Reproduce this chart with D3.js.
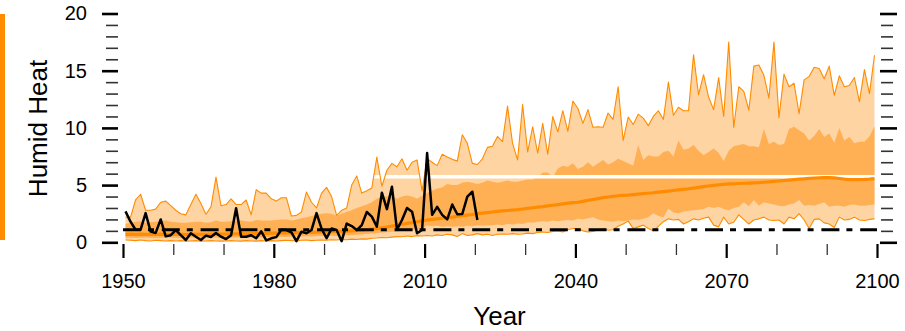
<!DOCTYPE html>
<html>
<head>
<meta charset="utf-8">
<script src="https://cdn.jsdelivr.net/npm/d3@7"></script>
<style>
  html, body { margin: 0; padding: 0; background: #fff; }
  svg { display: block; font-family: "Liberation Sans", Arial, Helvetica, sans-serif; }
</style>
</head>
<body>
<svg id="chart" width="905" height="331"></svg>
<script>
// Annual values, 1950-2099 (ensemble envelope) and 1950-2020 (observed)
const firstYear = 1950;

const ensMax = [
  2.2, 2.2, 3.7, 4.2, 2.8, 2.8, 2.9, 3.5, 3.6, 3.2,
  2.8, 2.5, 2.4, 3.3, 4.2, 3.4, 2.45, 3.1, 5.7, 3.2,
  3.3, 3.8, 3.3, 3.3, 3.7, 2.4, 4.6, 4.3, 4.3, 3.8,
  3.6, 3.9, 3.9, 2.3, 2.35, 2.65, 4.4, 3.5, 3.0, 4.3,
  4.8, 4.0, 2.35, 2.8, 3.0, 5.0, 5.8, 4.3, 4.5, 4.75,
  7.45, 4.9, 6.3, 6.9, 6.6, 7.3, 6.3, 7.0, 7.2, 4.5,
  7.3, 7.0, 6.7, 7.7, 7.45, 7.25, 7.1, 9.4, 8.65, 6.9,
  6.8, 7.3, 8.3, 8.4, 9.25, 8.8, 11.9, 8.65, 7.2, 12.05,
  7.9, 10.1, 7.8, 10.4, 7.7, 11.0, 9.65, 11.5, 9.7, 12.35,
  11.7, 10.4, 11.6, 10.05, 10.1, 10.05, 11.3, 10.75, 13.6, 8.9,
  10.95, 10.3, 11.2, 10.85, 10.2, 11.0, 11.5, 10.75, 14.0, 11.1,
  11.8, 11.5, 11.5, 16.4, 12.9, 14.65, 12.7, 11.6, 14.4, 11.0,
  17.5, 10.05, 13.6, 13.2, 11.55, 15.4, 15.5, 14.6, 12.6, 17.5,
  10.9, 14.7, 13.6, 13.9, 11.25, 14.2, 14.5, 15.3, 15.2, 14.3,
  15.4, 12.85, 14.55, 13.6, 13.7, 14.4, 12.3, 15.1, 13.0, 16.35
];

const ensHigh = [
  1.6, 1.7, 1.8, 1.85, 1.7, 1.75, 1.8, 1.85, 1.9, 1.8,
  1.75, 1.7, 1.7, 1.75, 1.8, 1.8, 1.7, 1.75, 1.9, 1.8,
  1.8, 1.85, 1.9, 1.9, 1.85, 1.8, 1.95, 1.9, 1.9, 1.9,
  1.95, 2.0, 2.0, 1.9, 2.0, 2.1, 2.2, 2.3, 2.4, 2.5,
  2.55, 2.5, 2.35, 2.5, 2.65, 2.8, 3.0, 3.15, 3.3, 3.5,
  3.8, 4.0, 4.0, 4.1, 3.8, 4.0, 4.1, 4.0, 3.8, 4.1,
  4.3, 4.5, 4.7, 4.8, 5.1, 5.0, 5.0, 5.2, 5.3, 5.2,
  5.1, 5.2, 5.4, 5.3, 5.2, 5.3, 5.4, 5.3, 5.3, 5.4,
  5.5, 5.5, 5.7, 6.1, 6.1, 5.7, 6.45, 6.7, 6.6, 6.9,
  6.4, 6.6, 7.0, 6.6, 6.9, 7.2, 6.8, 7.0, 7.3, 7.1,
  6.9, 6.7, 8.5, 7.2, 7.6, 7.5, 7.5, 7.9, 8.0, 7.5,
  8.9, 8.1, 8.2, 8.5, 8.0, 7.6, 7.9, 8.2, 7.8, 7.1,
  8.0, 8.4, 8.5, 8.6, 8.4, 8.4, 8.3, 9.9, 8.6, 8.8,
  8.5, 8.6, 9.9, 10.1, 9.8, 9.5, 8.9, 9.3, 9.9, 9.2,
  9.5, 8.7, 10.0, 8.9, 9.2, 8.65, 8.8, 8.8, 9.25, 10.15
];

const ensMedian = [
  0.7, 0.72, 0.7, 0.72, 0.7, 0.68, 0.7, 0.72, 0.7, 0.7,
  0.72, 0.7, 0.68, 0.7, 0.72, 0.7, 0.7, 0.72, 0.74, 0.72,
  0.72, 0.74, 0.74, 0.75, 0.74, 0.75, 0.76, 0.78, 0.78, 0.8,
  0.8, 0.82, 0.82, 0.83, 0.84, 0.85, 0.86, 0.87, 0.88, 0.9,
  0.9, 0.92, 0.94, 0.95, 0.97, 1.0, 1.03, 1.06, 1.1, 1.15,
  1.2, 1.27, 1.34, 1.42, 1.5, 1.58, 1.65, 1.72, 1.8, 1.88,
  1.95, 2.0, 2.05, 2.1, 2.15, 2.2, 2.27, 2.33, 2.38, 2.43,
  2.5, 2.55, 2.6, 2.65, 2.7, 2.74, 2.78, 2.82, 2.86, 2.91,
  2.97, 3.02, 3.07, 3.12, 3.18, 3.24, 3.3, 3.36, 3.42, 3.46,
  3.5, 3.58, 3.66, 3.74, 3.82, 3.9, 3.96, 4.02, 4.07, 4.1,
  4.13, 4.17, 4.21, 4.25, 4.29, 4.33, 4.38, 4.43, 4.48, 4.53,
  4.58, 4.63, 4.68, 4.74, 4.8, 4.86, 4.92, 4.98, 5.03, 5.07,
  5.1, 5.12, 5.14, 5.16, 5.18, 5.2, 5.22, 5.25, 5.28, 5.32,
  5.36, 5.4, 5.44, 5.48, 5.52, 5.55, 5.58, 5.61, 5.64, 5.66,
  5.66, 5.63, 5.58, 5.52, 5.48, 5.47, 5.48, 5.5, 5.53, 5.57
];

const ensLow = [
  0.4, 0.42, 0.38, 0.4, 0.42, 0.4, 0.38, 0.4, 0.42, 0.4,
  0.4, 0.38, 0.4, 0.42, 0.4, 0.38, 0.4, 0.42, 0.42, 0.4,
  0.42, 0.4, 0.44, 0.42, 0.44, 0.42, 0.45, 0.44, 0.46, 0.45,
  0.46, 0.48, 0.47, 0.5, 0.48, 0.5, 0.52, 0.5, 0.54, 0.55,
  0.56, 0.58, 0.56, 0.6, 0.62, 0.64, 0.66, 0.7, 0.72, 0.76,
  0.8, 0.85, 0.88, 0.92, 0.95, 1.0, 1.05, 1.1, 1.12, 1.18,
  1.5, 1.4, 1.45, 1.35, 1.4, 1.35, 1.4, 1.35, 1.45, 1.4,
  1.5, 1.45, 1.5, 1.5, 1.55, 1.5, 1.6, 1.55, 1.65, 1.6,
  1.75, 1.7, 1.8, 1.85, 1.8, 1.9, 1.85, 1.9, 1.95, 1.9,
  2.05, 2.0, 2.1, 2.2, 2.0, 1.9, 1.85, 1.8, 1.9, 1.85,
  1.9, 2.0, 1.95, 2.05, 2.2, 2.55, 2.3, 2.2, 2.95, 2.6,
  2.55, 2.7, 2.75, 2.8, 2.85, 2.9, 3.1, 3.0, 3.1, 2.9,
  2.8, 3.0, 3.1, 3.5, 3.15, 3.7, 3.2, 3.5, 3.4, 3.3,
  3.2, 3.15, 3.3, 3.4, 3.7, 3.2, 3.25, 3.2, 3.35, 3.5,
  3.1, 3.2, 3.2, 3.1, 3.25, 3.3, 3.2, 3.2, 3.25, 3.3
];

const ensMin = [
  0.2, 0.18, 0.15, 0.2, 0.15, 0.12, 0.18, 0.15, 0.12, 0.15,
  0.12, 0.15, 0.1, 0.12, 0.15, 0.1, 0.12, 0.15, 0.12, 0.1,
  0.12, 0.15, 0.12, 0.1, 0.15, 0.12, 0.1, 0.15, 0.12, 0.15,
  0.12, 0.15, 0.18, 0.15, 0.12, 0.18, 0.2, 0.15, 0.18, 0.2,
  0.18, 0.22, 0.2, 0.25, 0.22, 0.28, 0.25, 0.3, 0.28, 0.35,
  0.38, 0.42, 0.4, 0.45, 0.5, 0.48, 0.55, 0.5, 0.58, 0.55,
  0.6, 0.55, 0.65, 0.6, 0.7, 0.65, 0.5, 0.76, 0.6, 0.65,
  0.76, 0.65, 0.7, 0.6, 0.7, 0.72, 0.7, 0.76, 0.7, 0.72,
  0.8, 0.76, 0.85, 0.9, 0.85, 0.95, 1.0, 0.9, 1.1, 1.2,
  1.2, 1.0, 0.9, 0.95, 1.1, 1.2, 1.05, 1.1, 1.4, 1.6,
  1.85, 1.2, 1.35, 1.5, 1.2, 1.0, 1.4, 1.8, 2.05, 1.95,
  2.0, 1.6, 1.8, 2.05, 1.95, 2.1, 2.2, 1.5, 1.35, 2.2,
  1.6, 1.75, 2.4, 2.0, 1.6, 1.95, 2.05, 2.2, 1.95, 1.9,
  1.95, 1.6, 2.2, 2.05, 2.5, 1.95, 1.2, 2.0, 2.05, 1.7,
  1.6, 1.3, 2.2, 1.95, 2.0, 2.2, 1.95, 1.9, 2.0, 2.05
];

const observed = [
  2.7, 1.8, 1.1, 1.1, 2.55, 0.93, 0.82, 2.0, 0.52, 0.62,
  1.07, 0.62, 0.2, 0.79, 0.49, 0.2, 0.58, 0.46, 0.82, 0.49,
  0.28, 0.62, 2.97, 0.49, 0.49, 0.62, 0.35, 0.96, 0.17, 0.35,
  0.45, 1.1, 1.07, 0.86, 0.1, 0.93, 0.79, 1.07, 2.55, 1.2,
  0.35, 1.2, 1.07, 0.1, 1.63, 1.42, 1.07, 1.5, 2.65, 2.24,
  1.37, 4.34, 2.9, 4.86, 1.1, 1.95, 3.0, 2.68, 0.79, 1.07,
  7.8, 2.4, 3.1, 2.4, 2.0, 3.3, 2.45, 2.48, 3.99, 4.42,
  1.95
];

const baselineValue = 1.1;     // reference level (dash-dot)
const thresholdValue = 5.73;   // threshold level (white)

const yMajorTicks = [0, 5, 10, 15, 20];
const yMinorTicks = [1, 2, 3, 4, 6, 7, 8, 9, 11, 12, 13, 14, 16, 17, 18, 19];
const xMajorTicks = [1950, 1980, 2010, 2040, 2070, 2100];
const xMinorTicks = [1960, 1970, 1990, 2000, 2020, 2030, 2050, 2060, 2080, 2090];

const colLight = "#fdd4a2";
const colMedium = "#ffb055";
const colOrange = "#ff8c00";

const svg = d3.select("#chart");

const x = d3.scaleLinear().domain([1950, 2100]).range([123, 877]);
const y = d3.scaleLinear().domain([0, 20]).range([242.3, 13.5]);

// annual values are placed at mid-year
const yearPos = i => x(firstYear + i + 0.5);

const ens = ensMax.map((v, i) => ({
  i, max: v, high: ensHigh[i], med: ensMedian[i], low: ensLow[i], min: ensMin[i]
}));

// orange side bar
svg.append("rect")
  .attr("x", 0).attr("y", 14).attr("width", 5).attr("height", 226)
  .attr("fill", colOrange);

// full range envelope
svg.append("path")
  .datum(ens)
  .attr("fill", colLight)
  .attr("d", d3.area().x(d => yearPos(d.i)).y0(d => y(d.min)).y1(d => y(d.max)));

// inner range
svg.append("path")
  .datum(ens)
  .attr("fill", colMedium)
  .attr("d", d3.area().x(d => yearPos(d.i)).y0(d => y(d.low)).y1(d => y(d.high)));

// threshold line
svg.append("line")
  .attr("x1", x(1950)).attr("x2", x(2100))
  .attr("y1", y(thresholdValue)).attr("y2", y(thresholdValue))
  .attr("stroke", "#fff").attr("stroke-width", 3.5);

// envelope outlines
const lineOf = key => d3.line().x(d => yearPos(d.i)).y(d => y(d[key]));
["max", "min"].forEach(k => {
  svg.append("path").datum(ens)
    .attr("fill", "none").attr("stroke", colOrange).attr("stroke-width", 1.1)
    .attr("stroke-linejoin", "round")
    .attr("d", lineOf(k));
});

// ensemble median
svg.append("path").datum(ens)
  .attr("fill", "none").attr("stroke", colOrange).attr("stroke-width", 3.2)
  .attr("stroke-linejoin", "round")
  .attr("d", lineOf("med"));

// reference level
svg.append("line")
  .attr("x1", x(1950)).attr("x2", x(2100))
  .attr("y1", y(baselineValue)).attr("y2", y(baselineValue))
  .attr("stroke", "#000").attr("stroke-width", 3)
  .attr("stroke-dasharray", "18,7,6,7.8");

// observed series
svg.append("path").datum(observed)
  .attr("fill", "none").attr("stroke", "#000").attr("stroke-width", 2.5)
  .attr("stroke-linejoin", "round")
  .attr("d", d3.line().x((d, i) => yearPos(i)).y(d => y(d)));

// ---- axes ----
function styleAxis(g, width, color) {
  g.select(".domain").remove();
  g.selectAll(".tick line").attr("stroke", color).attr("stroke-width", width);
}

// left
const gLeftMinor = svg.append("g").attr("transform", "translate(118,0)")
  .call(d3.axisLeft(y).tickValues(yMinorTicks).tickSize(12).tickFormat(""));
styleAxis(gLeftMinor, 1.6, "#333");
const gLeft = svg.append("g").attr("transform", "translate(118,0)")
  .call(d3.axisLeft(y).tickValues(yMajorTicks).tickSize(16).tickPadding(15).tickFormat(d3.format("d")));
styleAxis(gLeft, 2.6, "#000");
gLeft.selectAll("text").attr("font-size", 20).attr("fill", "#000")
  .attr("font-family", "'Liberation Sans', Arial, sans-serif");

// right
const gRightMinor = svg.append("g").attr("transform", "translate(881,0)")
  .call(d3.axisRight(y).tickValues(yMinorTicks).tickSize(12).tickFormat(""));
styleAxis(gRightMinor, 1.6, "#333");
const gRight = svg.append("g").attr("transform", "translate(880,0)")
  .call(d3.axisRight(y).tickValues(yMajorTicks).tickSize(17).tickFormat(""));
styleAxis(gRight, 2.6, "#000");

// bottom
const gBottomMinor = svg.append("g").attr("transform", "translate(0,244)")
  .call(d3.axisBottom(x).tickValues(xMinorTicks).tickSize(11).tickFormat(""));
styleAxis(gBottomMinor, 1.3, "#333");
const gBottom = svg.append("g").attr("transform", "translate(0,244)")
  .call(d3.axisBottom(x).tickValues(xMajorTicks).tickSize(14).tickFormat(d3.format("d")));
styleAxis(gBottom, 2.2, "#000");
gBottom.selectAll("text").attr("font-size", 20).attr("fill", "#000")
  .attr("y", 44).attr("dy", 0)
  .attr("font-family", "'Liberation Sans', Arial, sans-serif");

// titles
svg.append("text")
  .attr("transform", "translate(46.5,128.5) rotate(-90)")
  .attr("text-anchor", "middle").attr("font-size", 26)
  .text("Humid Heat");

svg.append("text")
  .attr("x", 499.5).attr("y", 325)
  .attr("text-anchor", "middle").attr("font-size", 26)
  .text("Year");
</script>
</body>
</html>
